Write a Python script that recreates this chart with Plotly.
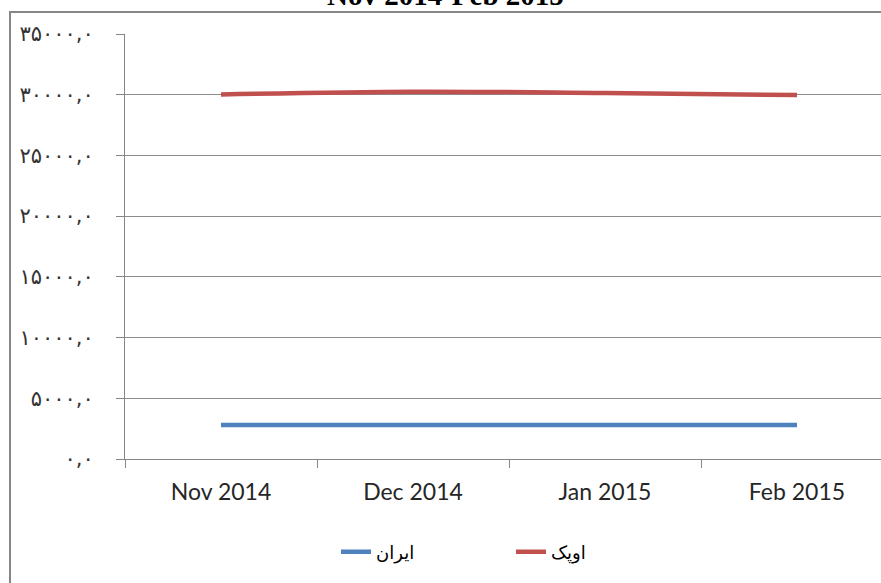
import plotly.graph_objects as go

categories = ["Nov 2014", "Dec 2014", "Jan 2015", "Feb 2015"]
iran = [2800, 2790, 2800, 2800]
opec = [30020, 30250, 30140, 29975]
y_tick_vals = [0, 5000, 10000, 15000, 20000, 25000, 30000, 35000]
y_tick_text = ["۰,۰", "۵۰۰۰,۰", "۱۰۰۰۰,۰", "۱۵۰۰۰,۰", "۲۰۰۰۰,۰", "۲۵۰۰۰,۰", "۳۰۰۰۰,۰", "۳۵۰۰۰,۰"]
title_text = "Nov 2014-Feb 2015"
iran_name = "ایران"
opec_name = "اوپک"

W, H = 881, 583
ml, mt, mb, mr = 125, 34, 124, 0
pw = W - ml - mr
ph = H - mt - mb

fig = go.Figure()
fig.add_trace(go.Scatter(x=categories, y=iran, name=iran_name, mode="lines",
                         line=dict(color="#4F81BD", width=4.5, shape="spline")))
fig.add_trace(go.Scatter(x=categories, y=opec, name=opec_name, mode="lines",
                         line=dict(color="#C0504D", width=4.5, shape="spline")))

fig.update_layout(
    width=W, height=H,
    margin=dict(l=ml, r=mr, t=mt, b=mb, pad=0),
    paper_bgcolor="white", plot_bgcolor="white",
    showlegend=True,
    legend=dict(orientation="h", x=(336 - ml) / pw, xanchor="left",
                y=(459 - 552) / ph, yanchor="middle",
                font=dict(family="DejaVu Sans", size=18, color="black"),
                traceorder="normal", entrywidth=130, entrywidthmode="pixels"),
    font=dict(family="Lato", color="black"),
)

fig.update_xaxes(type="category", range=[-0.5, -0.5 + pw / 192.0],
                 showgrid=False, showline=True, linecolor="#868686", linewidth=1,
                 ticks="outside", tickson="boundaries", ticklen=8, tickcolor="#868686",
                 ticklabelstandoff=12,
                 tickfont=dict(family="Lato", size=23, color="#262626"),
                 zeroline=False, fixedrange=True)
fig.update_yaxes(range=[0, 35000], tickvals=y_tick_vals, ticktext=y_tick_text,
                 showgrid=True, gridcolor="#8c8c8c", gridwidth=1,
                 showline=True, linecolor="#868686", linewidth=1,
                 ticks="outside", ticklen=8, tickcolor="#868686",
                 ticklabelstandoff=18,
                 tickfont=dict(family="DejaVu Sans", size=21, color="#333"),
                 zeroline=False, fixedrange=True)

# outer chart border (left and top edges visible)
fig.add_shape(type="rect", xref="paper", yref="paper",
              x0=(10 - ml) / pw, x1=1.05, y0=(459 - 600) / ph, y1=(459 - 12) / ph,
              line=dict(color="#868686", width=2), fillcolor="rgba(0,0,0,0)", layer="below")

fig.add_annotation(text="<b>" + title_text + "</b>", xref="paper", yref="paper",
                   x=(445 - ml) / pw, y=(459 - 13) / ph, xanchor="center", yanchor="bottom",
                   showarrow=False,
                   font=dict(family="Liberation Serif", size=29, color="black"))

fig.write_html("out.html", config={"displayModeBar": False},
               post_script="document.body.style.margin='0';document.body.style.overflow='hidden';")
